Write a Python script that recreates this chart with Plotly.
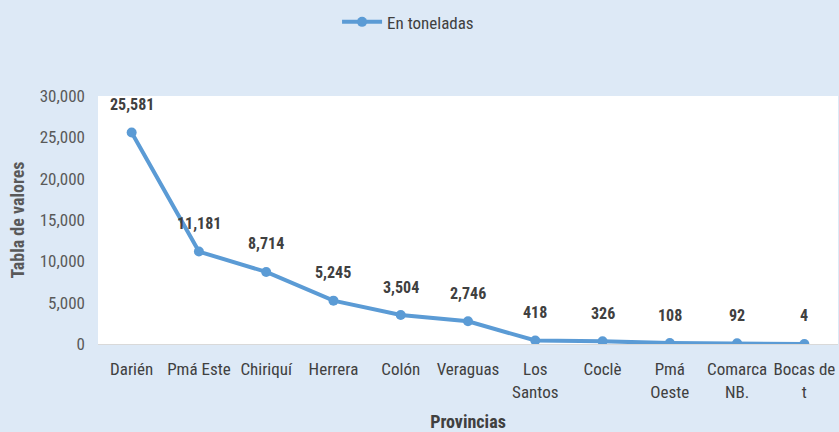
import plotly.graph_objects as go

categories = ["Darién", "Pmá Este", "Chiriquí", "Herrera", "Colón", "Veraguas",
              "Los<br>Santos", "Coclè", "Pmá<br>Oeste", "Comarca<br>NB.", "Bocas de<br>t"]
values = [25581, 11181, 8714, 5245, 3504, 2746, 418, 326, 108, 92, 4]
value_labels = ["25,581", "11,181", "8,714", "5,245", "3,504", "2,746", "418", "326", "108", "92", "4"]
y_ticks = [0, 5000, 10000, 15000, 20000, 25000, 30000]
y_tick_labels = ["0", "5,000", "10,000", "15,000", "20,000", "25,000", "30,000"]

FONT = "Liberation Sans Narrow, Roboto Condensed, DejaVu Sans Condensed, sans-serif"
BLUE = "#5b9bd5"
BG = "#dde9f6"

fig = go.Figure()
fig.add_trace(go.Scatter(
    x=categories, y=values, mode="lines+markers", name="En toneladas",
    line=dict(color=BLUE, width=4),
    marker=dict(color=BLUE, size=10),
))

for c, v, t in zip(categories, values, value_labels):
    fig.add_annotation(x=c, y=v, text="<b>" + t + "</b>", showarrow=False,
                       yshift=28, font=dict(family=FONT, size=16, color="#404040"))

fig.update_layout(
    width=839, height=432,
    paper_bgcolor=BG, plot_bgcolor="white",
    margin=dict(l=98, r=1, t=96, b=88),
    font=dict(family=FONT, size=17, color="#595959"),
    showlegend=True,
    legend=dict(orientation="h", x=0.419, xanchor="center", y=0.99, yref="container",
                yanchor="top", bgcolor="rgba(0,0,0,0)",
                font=dict(family=FONT, size=17, color="#404040"),
                itemwidth=40),
    xaxis=dict(showgrid=False, showline=True, linecolor="#d9d9d9", linewidth=1,
               ticks="", automargin=False, range=[-0.5, len(categories) - 0.5],
               ticklabelstandoff=10,
               tickfont=dict(family=FONT, size=17, color="#404040"),
               title=dict(text="<b>Provincias</b>", standoff=24,
                          font=dict(family=FONT, size=18, color="#404040"))),
    yaxis=dict(range=[0, 30000], tickvals=y_ticks, ticktext=y_tick_labels,
               showgrid=False, zeroline=False, showline=False, ticks="",
               automargin=False, ticklabelstandoff=12,
               tickfont=dict(family=FONT, size=17, color="#595959"),
               title=dict(text="<b>Tabla de valores</b>", standoff=10,
                          font=dict(family=FONT, size=18, color="#595959"))),
)

fig.write_html("out.html", config={"displayModeBar": False},
               post_script="document.body.style.margin='0';document.body.style.overflow='hidden';")
